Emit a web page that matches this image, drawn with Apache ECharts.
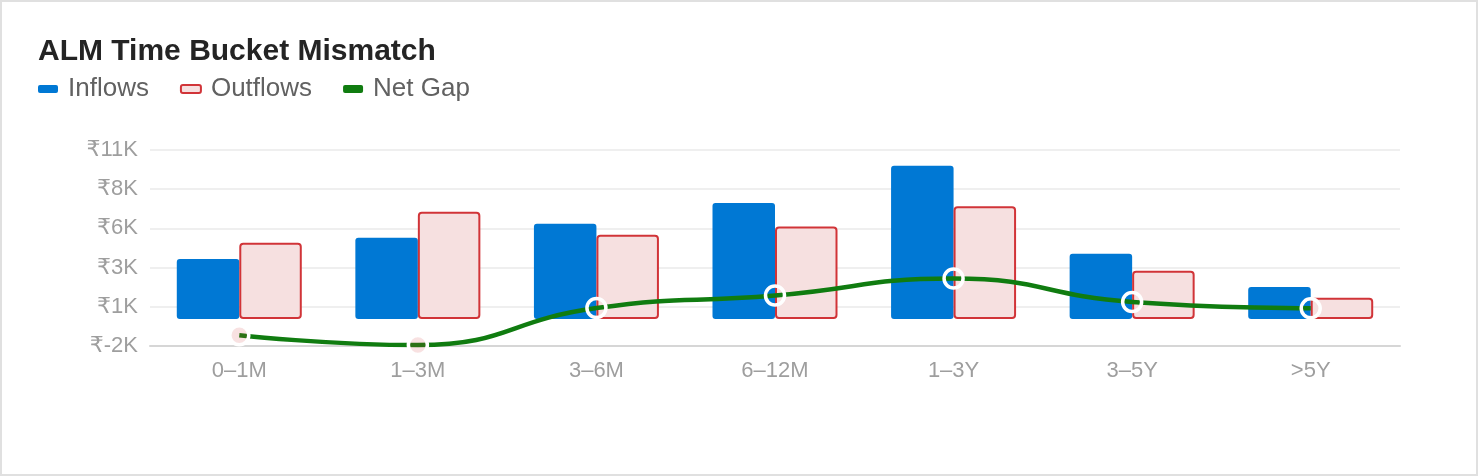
<!DOCTYPE html>
<html>
<head>
<meta charset="utf-8">
<script src="https://cdn.jsdelivr.net/npm/echarts@6/dist/echarts.min.js"></script>
<style>
html,body{margin:0;padding:0;background:#fff;}
#wrap{position:absolute;left:0;top:0;width:1474px;height:472px;border:2px solid #e0e0e0;background:#fff;}
#chart{width:1474px;height:472px;}
</style>
</head>
<body>
<div id="wrap"><div id="chart"></div></div>
<script>
const categories = ['0–1M', '1–3M', '3–6M', '6–12M', '1–3Y', '3–5Y', '>5Y'];
const inflows = [3830, 5180, 6080, 7400, 9780, 4170, 2040];
const outflows = [4860, 6840, 5380, 5900, 7200, 3080, 1360];
const netGap = [-1030, -1660, 700, 1500, 2580, 1090, 680];
const yMin = -1720, yMax = 10780, yInterval = 2500;

const font = '"Liberation Sans", Arial, "DejaVu Sans", sans-serif';
const chart = echarts.init(document.getElementById('chart'), null, {renderer: 'canvas'});
chart.setOption({
  animation: false,
  textStyle: {fontFamily: font},
  title: {
    text: 'ALM Time Bucket Mismatch',
    left: 31, top: 30,
    textStyle: {fontSize: 30, fontWeight: 'bold', color: '#242424', fontFamily: font}
  },
  legend: {
    left: 31, top: 69,
    icon: 'roundRect',
    itemWidth: 20, itemHeight: 8,
    itemGap: 31,
    textStyle: {fontSize: 26, color: '#616161', fontFamily: font, padding: [0, 0, 0, 5]},
    data: ['Inflows', 'Outflows', 'Net Gap']
  },
  grid: {left: 148, right: 76, top: 148, bottom: 128},
  xAxis: {
    type: 'category',
    data: categories,
    axisLine: {onZero: false, lineStyle: {color: '#d6d6d6', width: 2}},
    axisTick: {show: false},
    axisLabel: {fontSize: 22, color: '#9e9e9e', margin: 14, fontFamily: font}
  },
  yAxis: {
    type: 'value',
    min: yMin, max: yMax, interval: yInterval,
    axisLine: {show: false},
    axisTick: {show: false},
    splitLine: {lineStyle: {color: '#efefef', width: 2}},
    axisLabel: {
      fontSize: 22, color: '#9e9e9e', margin: 12, fontFamily: font,
      formatter: v => '₹' + (v / 1000).toFixed(0) + 'K'
    }
  },
  series: [
    {
      name: 'Inflows', type: 'bar', data: inflows,
      barWidth: '35%', barGap: '0%',
      itemStyle: {color: '#0078d4', borderRadius: 3}
    },
    {
      name: 'Outflows', type: 'bar', data: outflows,
      barWidth: '35%', barGap: '0%',
      itemStyle: {color: '#f6e0e0', borderColor: '#d13438', borderWidth: 2, borderRadius: 3}
    },
    {
      name: 'Net Gap', type: 'line', smooth: true,
      data: netGap.map(v => ({
        value: v,
        itemStyle: v < 0
          ? {color: 'rgba(209,52,56,0.15)', borderColor: '#ffffff', borderWidth: 3.5}
          : {color: 'rgba(0,0,0,0)', borderColor: '#ffffff', borderWidth: 3.5}
      })),
      symbol: 'circle', symbolSize: 19,
      lineStyle: {color: '#107c10', width: 4.5},
      itemStyle: {color: '#107c10'},
      z: 5
    }
  ]
});
</script>
</body>
</html>
